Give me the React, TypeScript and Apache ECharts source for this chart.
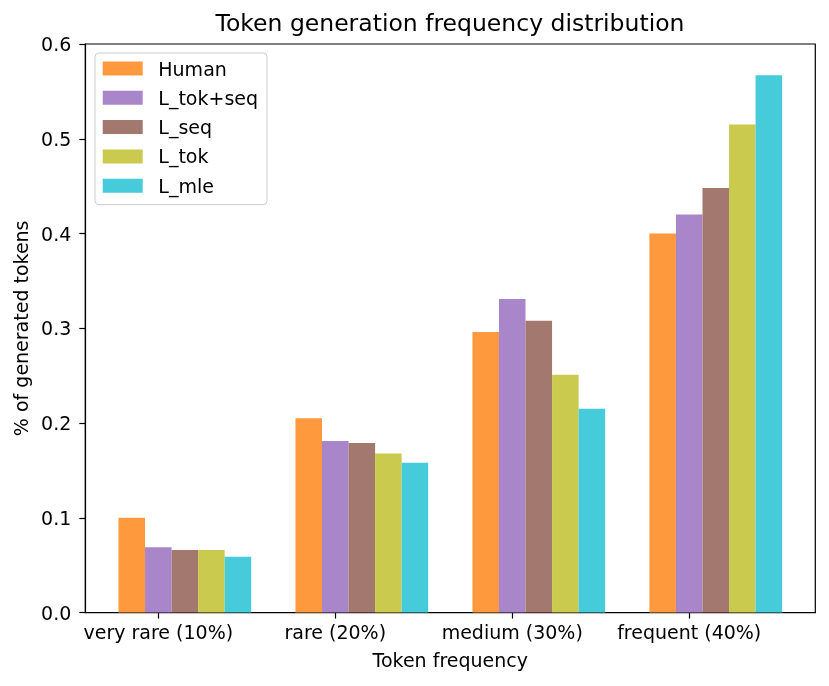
import React, { useEffect, useRef } from "react";
import * as echarts from "echarts";

const categories = ["very rare (10%)", "rare (20%)", "medium (30%)", "frequent (40%)"];
const seriesNames = ["Human", "L_tok+seq", "L_seq", "L_tok", "L_mle"];
const human = [0.1, 0.205, 0.296, 0.4];
const tokSeq = [0.069, 0.181, 0.331, 0.42];
const seq = [0.066, 0.179, 0.308, 0.448];
const tok = [0.066, 0.168, 0.251, 0.515];
const mle = [0.059, 0.158, 0.215, 0.567];
const yTicks = [0, 0.1, 0.2, 0.3, 0.4, 0.5, 0.6];
const colors = ["#FF993E", "#A985CA", "#A3786F", "#C9CA4E", "#45CBD9"];

const allValues = [human, tokSeq, seq, tok, mle];
const BAR_W = 0.15;
const FONT = "DejaVu Sans";
const FS = 19;

export default function App() {
  const ref = useRef<HTMLDivElement>(null);
  useEffect(() => {
    if (!ref.current) return;
    const chart = echarts.init(ref.current, null, { renderer: "svg" });
    const series = seriesNames.map((name, si) => {
      const offset = (si - 1) * BAR_W;
      return {
        name,
        type: "custom",
        itemStyle: { color: colors[si] },
        encode: { x: 0, y: 1 },
        data: allValues[si].map((v, ci) => [ci, v]),
        renderItem: (params: any, api: any) => {
          const c = api.value(0);
          const v = api.value(1);
          const top = api.coord([c + offset, v]);
          const base = api.coord([c + offset, 0]);
          const w = api.size([BAR_W, 0])[0];
          return {
            type: "rect",
            shape: { x: top[0] - w / 2, y: top[1], width: w, height: base[1] - top[1] },
            style: { fill: colors[si] },
          };
        },
      };
    });
    chart.setOption({
      animation: false,
      color: colors,
      textStyle: { fontFamily: FONT },
      title: {
        text: "Token generation frequency distribution",
        left: 450,
        textAlign: "center",
        top: 10.5,
        padding: 0,
        textStyle: { fontFamily: FONT, fontSize: 23.5, fontWeight: "normal", color: "#000" },
      },
      legend: {
        orient: "vertical",
        left: 95,
        top: 53,
        icon: "rect",
        itemWidth: 40,
        itemHeight: 14,
        itemGap: 10.3,
        padding: [6, 9, 9.5, 7.7],
        borderColor: "#cccccc",
        borderWidth: 1,
        borderRadius: 4,
        backgroundColor: "rgba(255,255,255,0.8)",
        textStyle: { fontFamily: FONT, fontSize: FS, color: "#000", padding: [0, 0, 0, 10.6] },
        data: seriesNames,
      },
      grid: {
        left: 85.3,
        right: 13.7,
        top: 44,
        bottom: 73.4,
        show: true,
        borderColor: "#000",
        borderWidth: 1.2,
        containLabel: false,
      },
      xAxis: {
        type: "value",
        min: -0.4125,
        max: 3.7125,
        name: "Token frequency",
        nameLocation: "middle",
        nameGap: 38,
        nameTextStyle: { fontFamily: FONT, fontSize: FS, color: "#000" },
        splitLine: { show: false },
        axisLine: { show: true, onZero: false, lineStyle: { color: "#000", width: 1.2 } },
        axisTick: { show: true, length: 6, customValues: [0, 1, 2, 3], lineStyle: { color: "#000", width: 1.2 } },
        axisLabel: {
          customValues: [0, 1, 2, 3],
          formatter: (v: number) => categories[Math.round(v)] ?? "",
          fontFamily: FONT,
          fontSize: FS,
          color: "#000",
          margin: 10,
        },
      },
      yAxis: {
        type: "value",
        min: 0,
        max: 0.6,
        interval: 0.1,
        name: "% of generated tokens",
        nameLocation: "middle",
        nameGap: 52,
        nameTextStyle: { fontFamily: FONT, fontSize: FS, color: "#000" },
        splitLine: { show: false },
        axisLine: { show: true, onZero: false, lineStyle: { color: "#000", width: 1.2 } },
        axisTick: { show: true, length: 6, lineStyle: { color: "#000", width: 1.2 } },
        axisLabel: {
          formatter: (v: number) => v.toFixed(1),
          fontFamily: FONT,
          fontSize: FS,
          color: "#000",
          margin: 14,
          customValues: yTicks,
        },
      },
      series,
    });
    return () => chart.dispose();
  }, []);
  return <div ref={ref} style={{ position: "fixed", left: 0, top: 0, width: 829, height: 686 }} />;
}
